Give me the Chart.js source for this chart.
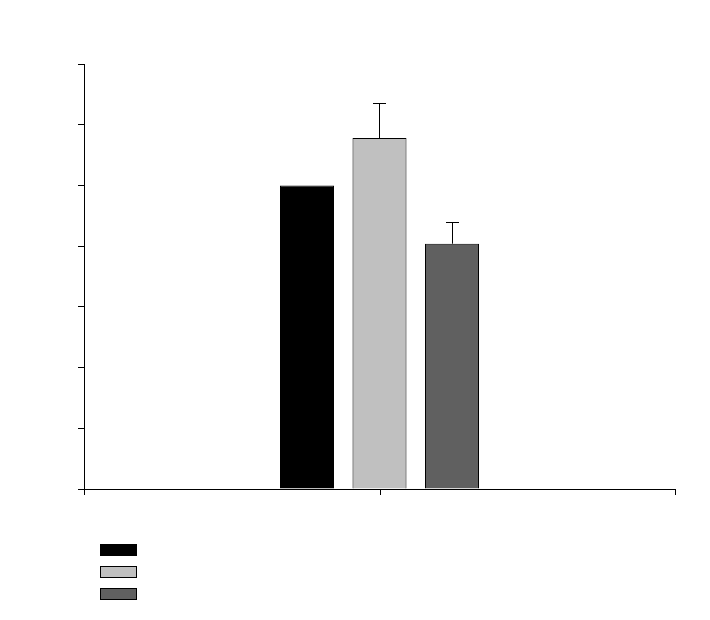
<!DOCTYPE html>
<html>
<head>
<meta charset="utf-8">
<style>
  html, body { margin: 0; padding: 0; background: #fff; }
  #wrap { width: 710px; height: 620px; }
</style>
<script src="https://cdn.jsdelivr.net/npm/chart.js@4/dist/chart.umd.min.js"></script>
</head>
<body>
<div id="wrap"><canvas id="chart" width="710" height="620"></canvas></div>
<script>
// data (no labels visible in the reference)
const categories = [''];
const seriesNames = ['', '', ''];
const seriesValues = [5.0, 5.78, 4.04];
const seriesErrors = [0, 0.58, 0.36];
const seriesColors = ['#000000', '#c0c0c0', '#606060'];
const yMin = 0;
const yMax = 7;
const yStep = 1;

// error bars on top of each bar
const errorBars = {
    id: 'errorBars',
    afterDatasetsDraw(chart) {
        const ctx = chart.ctx;
        const y = chart.scales.y;
        ctx.save();
        ctx.strokeStyle = '#000';
        ctx.lineWidth = 1;
        chart.data.datasets.forEach((ds, i) => {
            const err = seriesErrors[i];
            if (!err) return;
            chart.getDatasetMeta(i).data.forEach((bar, j) => {
                const x = Math.round(bar.x) + 0.5;
                const top = Math.round(y.getPixelForValue(ds.data[j] + err)) + 0.5;
                ctx.beginPath();
                ctx.moveTo(x, bar.y);
                ctx.lineTo(x, top);
                ctx.moveTo(x - 6.5, top);
                ctx.lineTo(x + 6.5, top);
                ctx.stroke();
            });
        });
        ctx.restore();
    }
};

// middle tick of the x axis + legend swatches under the chart
const extras = {
    id: 'extras',
    afterDraw(chart) {
        const ctx = chart.ctx;
        const xs = chart.scales.x;
        const bottom = chart.chartArea.bottom;
        ctx.save();
        ctx.strokeStyle = '#000';
        ctx.lineWidth = 1;
        categories.forEach((c, i) => {
            const x = Math.round(xs.getPixelForValue(i)) + 0.5;
            ctx.beginPath();
            ctx.moveTo(x, bottom);
            ctx.lineTo(x, bottom + 6);
            ctx.stroke();
        });
        // legend
        const legendTop = [544, 566, 588];
        chart.data.datasets.forEach((ds, i) => {
            ctx.fillStyle = ds.backgroundColor;
            ctx.fillRect(100, legendTop[i], 37, 12);
            ctx.strokeRect(100.5, legendTop[i] + 0.5, 36, 11);
        });
        ctx.restore();
    }
};

const ctx = document.getElementById('chart').getContext('2d');
const chart = new Chart(ctx, {
    type: 'bar',
    data: {
        labels: categories,
        datasets: seriesValues.map((v, i) => ({
            label: seriesNames[i],
            data: [v],
            backgroundColor: seriesColors[i],
            borderColor: '#000',
            borderWidth: 1,
            categoryPercentage: 0.368,
            barPercentage: 0.745
        }))
    },
    options: {
        responsive: false,
        animation: false,
        layout: { padding: { left: 74, right: 35, top: 64, bottom: 121 } },
        plugins: {
            legend: { display: false },
            tooltip: { enabled: false }
        },
        scales: {
            x: {
                afterFit: s => { s.height = 10; },
                grid: { offset: true, drawOnChartArea: false, tickLength: 6, color: '#000' },
                border: { color: '#000', width: 1 },
                ticks: { display: false }
            },
            y: {
                min: yMin,
                max: yMax,
                afterFit: s => { s.width = 10; },
                grid: { drawOnChartArea: false, tickLength: 6, color: '#000' },
                border: { color: '#000', width: 1 },
                ticks: { display: false, stepSize: yStep }
            }
        }
    },
    plugins: [errorBars, extras]
});
</script>
</body>
</html>
